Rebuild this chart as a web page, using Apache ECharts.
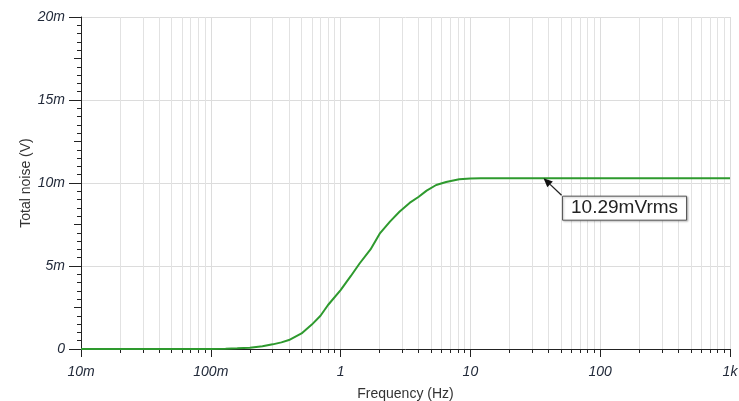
<!DOCTYPE html>
<html>
<head>
<meta charset="utf-8">
<style>html,body{margin:0;padding:0;background:#fff;}#chart{width:739px;height:401px;}</style>
<script src="https://cdn.jsdelivr.net/npm/echarts@6/dist/echarts.min.js"></script>
</head>
<body>
<div id="chart"></div>
<script>
// ---- data ----
const freqHz = [0.01, 0.05, 0.1, 0.13, 0.16, 0.2, 0.25, 0.3, 0.35, 0.4, 0.5, 0.6, 0.7, 0.8, 1.0, 1.2, 1.4, 1.7, 2.0, 2.4, 2.84, 3.4, 4.0, 4.6, 5.45, 6.5, 8.2, 10, 12, 20, 50, 100, 300, 1000];
const noiseMv = [0, 0, 0.005, 0.02, 0.04, 0.08, 0.16, 0.28, 0.4, 0.54, 0.94, 1.47, 2.0, 2.65, 3.55, 4.4, 5.15, 6.0, 6.95, 7.67, 8.27, 8.8, 9.17, 9.54, 9.88, 10.06, 10.22, 10.27, 10.29, 10.29, 10.29, 10.29, 10.29, 10.29];
const xTickLabels = ['10m', '100m', '1', '10', '100', '1k'];
const yTickLabels = ['0', '5m', '10m', '15m', '20m'];
const annotationFreq = 36.6;
const annotationMv = 10.29;
const annotationText = '10.29mVrms';

// minor tick positions (log10 of 2..9 x decade)
const minorLog = [];
for (let d = -2; d < 3; d++) {
  for (let k = 2; k <= 9; k++) minorLog.push(d + Math.log10(k));
}
const seriesData = freqHz.map((f, i) => [f, noiseMv[i]]);

const labelFont = 'Liberation Sans, Arial, sans-serif';
const labelStyle = { color: '#222a3a', fontSize: 14, fontStyle: 'italic', fontFamily: labelFont };

const chart = echarts.init(document.getElementById('chart'), null, { renderer: 'canvas' });
chart.setOption({
  animation: false,
  backgroundColor: '#fff',
  grid: { left: 81, right: 9, top: 17, bottom: 52, containLabel: false, outerBoundsMode: 'none' },
  xAxis: [
    {
      type: 'log', logBase: 10, min: 0.01, max: 1000, position: 'bottom',
      name: 'Frequency (Hz)', nameLocation: 'middle', nameGap: 38, nameMoveOverlap: false,
      nameTextStyle: { color: '#333', fontSize: 14, fontFamily: labelFont },
      axisLine: { show: true, onZero: false, lineStyle: { color: '#222', width: 1 } },
      axisTick: { show: true, inside: false, length: 8, lineStyle: { color: '#222' } },
      axisLabel: Object.assign({ margin: 16, formatter: v => xTickLabels[Math.round(Math.log10(v)) + 2] }, labelStyle),
      splitLine: { show: true, lineStyle: { color: '#dcdcdc', width: 1 } },
      minorTick: { show: false }
    },
    {
      type: 'value', min: -2, max: 3, position: 'bottom',
      axisLine: { show: false, onZero: false },
      axisTick: { show: true, inside: false, length: 4, customValues: minorLog, lineStyle: { color: '#222' } },
      axisLabel: { show: false },
      splitLine: { show: true, lineStyle: { color: '#e2e2e2', width: 1 } }
    }
  ],
  yAxis: [
    {
      type: 'value', min: 0, max: 20, interval: 5, position: 'left',
      name: 'Total noise (V)', nameLocation: 'middle', nameGap: 48, nameRotate: 90, nameMoveOverlap: false,
      nameTextStyle: { color: '#333', fontSize: 14, fontFamily: labelFont },
      axisLine: { show: true, onZero: false, lineStyle: { color: '#222', width: 1 } },
      axisTick: { show: true, inside: false, length: 12, lineStyle: { color: '#222' } },
      minorTick: { show: true, splitNumber: 10, length: 4, lineStyle: { color: '#222' } },
      axisLabel: Object.assign({ margin: 16, formatter: v => yTickLabels[Math.round(v / 5)] }, labelStyle),
      splitLine: { show: true, lineStyle: { color: '#dcdcdc', width: 1 } }
    },
    {
      type: 'value', min: 0, max: 20, position: 'left',
      axisLine: { show: false, onZero: false },
      axisTick: { show: true, inside: false, length: 7, customValues: [2.5, 7.5, 12.5, 17.5], lineStyle: { color: '#222' } },
      axisLabel: { show: false },
      splitLine: { show: false }
    }
  ],
  series: [{
    type: 'line', xAxisIndex: 0, yAxisIndex: 0,
    data: seriesData, showSymbol: false, symbol: 'none', smooth: false,
    lineStyle: { color: '#2e9a2e', width: 2 }
  }]
});

// annotation with arrow, anchored to data coordinates
const tip = chart.convertToPixel({ xAxisIndex: 0, yAxisIndex: 0 }, [annotationFreq, annotationMv]);
const tail = [tip[0] + 18, tip[1] + 17];
const dx = tip[0] - tail[0], dy = tip[1] - tail[1];
const len = Math.hypot(dx, dy), ux = dx / len, uy = dy / len;
const headL = 9, headW = 4;
const base = [tip[0] - ux * headL, tip[1] - uy * headL];
chart.setOption({
  graphic: [
    { type: 'line', shape: { x1: tail[0], y1: tail[1], x2: base[0], y2: base[1] }, style: { stroke: '#222', lineWidth: 1.3 }, z: 100 },
    { type: 'polygon', shape: { points: [tip, [base[0] - uy * headW, base[1] + ux * headW], [base[0] + uy * headW, base[1] - ux * headW]] }, style: { fill: '#111' }, z: 100 },
    { type: 'rect', shape: { x: tip[0] + 19, y: tip[1] + 18, width: 124, height: 24 },
      style: { fill: '#fff', stroke: '#555', lineWidth: 1, shadowBlur: 2, shadowColor: 'rgba(0,0,0,0.25)', shadowOffsetX: 1, shadowOffsetY: 1 }, z: 100 },
    { type: 'text', x: tip[0] + 19 + 62, y: tip[1] + 18 + 12,
      style: { text: annotationText, fill: '#222', fontSize: 19, fontFamily: labelFont, align: 'center', verticalAlign: 'middle' }, z: 101 }
  ]
});
</script>
</body>
</html>
